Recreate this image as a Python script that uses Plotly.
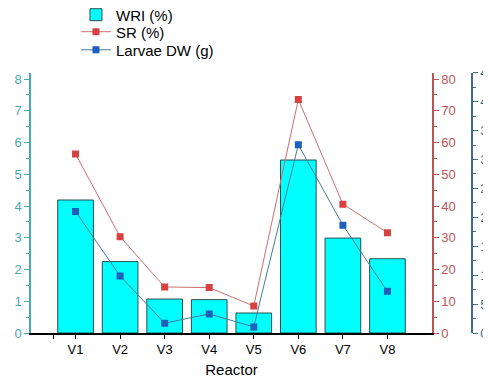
import plotly.graph_objects as go

categories = ["V1", "V2", "V3", "V4", "V5", "V6", "V7", "V8"]
wri = [4.19, 2.25, 1.07, 1.05, 0.63, 5.45, 2.99, 2.34]
sr = [56.4, 30.3, 14.5, 14.3, 8.5, 73.6, 40.6, 31.6]
larvae_dw = [21.0, 9.85, 1.7, 3.3, 1.05, 32.55, 18.65, 7.2]

xpos = list(range(1, len(categories) + 1))

TEAL = "rgb(72,170,175)"
RED = "rgb(190,85,85)"
BLUE = "rgb(60,110,140)"
FONT = "Liberation Sans, Arial, sans-serif"

fig = go.Figure()
fig.add_trace(go.Bar(
    x=xpos, y=wri, name="WRI (%)", width=0.8,
    marker=dict(color="#00FFFF", line=dict(color="rgb(40,80,80)", width=1)),
    yaxis="y", legend="legend",
))
fig.add_trace(go.Scatter(
    x=xpos, y=sr, name="SR (%)", mode="lines+markers",
    line=dict(color="rgb(205,110,110)", width=1),
    marker=dict(symbol="square", size=7, color="rgb(215,65,65)"),
    yaxis="y2", legend="legend2",
))
fig.add_trace(go.Scatter(
    x=xpos, y=larvae_dw, name="Larvae DW (g)", mode="lines+markers",
    line=dict(color="rgb(70,125,150)", width=1),
    marker=dict(symbol="square", size=7, color="rgb(30,95,190)"),
    yaxis="y3", legend="legend3",
))

leg_common = dict(
    x=0.102, xanchor="left", yanchor="middle",
    font=dict(size=15, color="black"), bgcolor="rgba(0,0,0,0)",
    itemwidth=30, borderwidth=0,
)

fig.update_layout(
    width=483, height=372,
    margin=dict(l=23, r=19, t=55, b=47, autoexpand=False),
    paper_bgcolor="white", plot_bgcolor="white",
    font=dict(family=FONT, size=13, color="black"),
    showlegend=True,
    legend=dict(y=1.178, **leg_common),
    legend2=dict(y=1.115, **leg_common),
    legend3=dict(y=1.048, **leg_common),
    xaxis=dict(
        domain=[0, 0.9093], range=[0, 9],
        tickvals=[0.5] + xpos, ticktext=[""] + categories,
        ticks="outside", ticklen=4, tickcolor="black",
        showline=True, linecolor="black", linewidth=1.5,
        showgrid=False, zeroline=False,
        tickfont=dict(size=13, color="black"),
        title=dict(text="Reactor", font=dict(size=15, color="black"), standoff=8),
    ),
    yaxis=dict(
        domain=[0, 0.964], range=[0, 8.2],
        dtick=1, ticks="outside", ticklen=5, tickcolor=TEAL,
        minor=dict(ticks="outside", dtick=0.5, ticklen=3, tickcolor=TEAL),
        showline=True, linecolor=TEAL, linewidth=1.5,
        showgrid=False, zeroline=False,
        tickfont=dict(size=13, color=TEAL),
    ),
    yaxis2=dict(
        overlaying="y", anchor="x", side="right", range=[0, 82],
        dtick=10, ticks="outside", ticklen=5, tickcolor=RED,
        minor=dict(ticks="outside", dtick=5, ticklen=3, tickcolor=RED),
        showline=True, linecolor=RED, linewidth=1.5,
        showgrid=False, zeroline=False,
        tickfont=dict(size=13, color=RED),
    ),
    yaxis3=dict(
        overlaying="y", anchor="free", position=1.0, side="right",
        range=[0, 45],
        dtick=5, ticks="outside", ticklen=5, tickcolor=BLUE,
        minor=dict(ticks="outside", dtick=2.5, ticklen=3, tickcolor=BLUE),
        showline=True, linecolor=BLUE, linewidth=1.5,
        showgrid=False, zeroline=False,
        tickfont=dict(size=13, color=BLUE),
    ),
)

fig.write_html("out.html")
